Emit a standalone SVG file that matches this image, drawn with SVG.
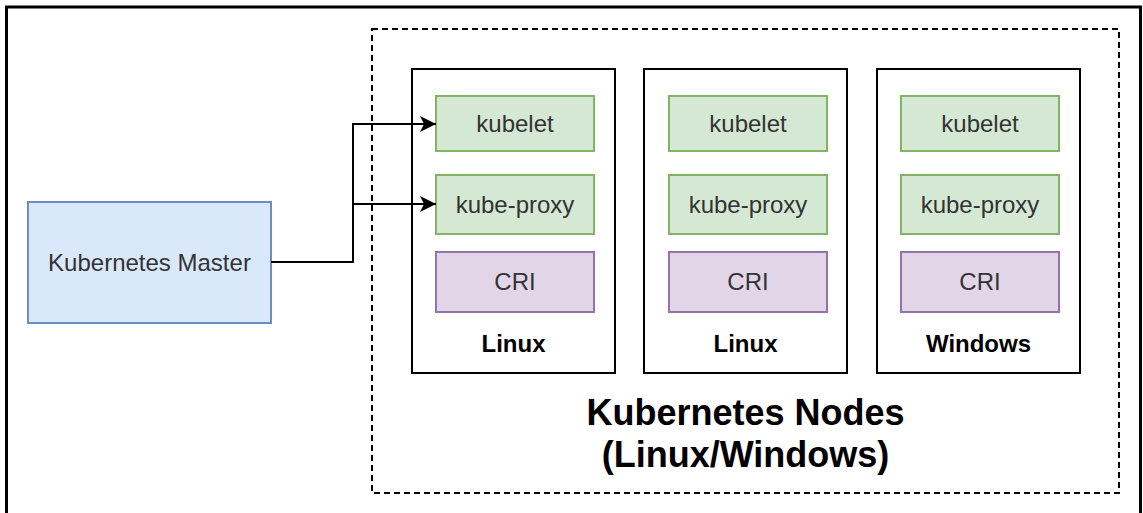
<svg xmlns="http://www.w3.org/2000/svg" width="1143" height="513" viewBox="0 0 1143 513">
<defs>
<style>
.t{font-family:"Liberation Sans",Arial,sans-serif;font-size:24px;fill:#333333;text-anchor:middle}
.b{font-family:"Liberation Sans",Arial,sans-serif;font-size:24px;font-weight:bold;fill:#000;text-anchor:middle}
.g{fill:#d5e8d4;stroke:#82b366;stroke-width:2}
.p{fill:#e1d5e7;stroke:#9673a6;stroke-width:2}
.n{fill:#fff;stroke:#000;stroke-width:2}
.c{fill:none;stroke:#000;stroke-width:2}
</style>
<marker id="arr" markerUnits="userSpaceOnUse" markerWidth="20" markerHeight="20" viewBox="0 0 20 20" refX="18" refY="10" orient="auto">
<path d="M2,2 L18,10 L2,18 L6,10 Z" fill="#000"/>
</marker>
</defs>
<rect x="0" y="0" width="1143" height="513" fill="#fff"/>
<rect id="frame" x="6.5" y="7" width="1134" height="600" fill="none" stroke="#000" stroke-width="3"/>
<g id="nodes-group">
<rect x="372" y="29" width="747" height="464" fill="none" stroke="#000" stroke-width="2" stroke-dasharray="6 4"/>
<text class="b" x="745.5" y="425" font-size="36" style="font-size:36px">Kubernetes Nodes</text>
<text class="b" x="745.5" y="467" style="font-size:36px">(Linux/Windows)</text>
</g>
<g id="master">
<rect x="28" y="202" width="243" height="121" fill="#dae8fc" stroke="#6c8ebf" stroke-width="2"/>
<text class="t" x="149.5" y="271">Kubernetes Master</text>
</g>
<g id="node1">
<rect class="n" x="412" y="69" width="203" height="304"/>
<rect class="g" x="436" y="96" width="158" height="55"/>
<text class="t" x="515" y="132">kubelet</text>
<rect class="g" x="436" y="175" width="158" height="59"/>
<text class="t" x="515" y="213">kube-proxy</text>
<rect class="p" x="436" y="252" width="158" height="60"/>
<text class="t" x="515" y="290">CRI</text>
<text class="b" x="513.5" y="352">Linux</text>
</g>
<g id="node2">
<rect class="n" x="644" y="69" width="203" height="304"/>
<rect class="g" x="669" y="96" width="158" height="55"/>
<text class="t" x="748" y="132">kubelet</text>
<rect class="g" x="669" y="175" width="158" height="59"/>
<text class="t" x="748" y="213">kube-proxy</text>
<rect class="p" x="669" y="252" width="158" height="60"/>
<text class="t" x="748" y="290">CRI</text>
<text class="b" x="745.5" y="352">Linux</text>
</g>
<g id="node3">
<rect class="n" x="877" y="69" width="203" height="304"/>
<rect class="g" x="901" y="96" width="158" height="55"/>
<text class="t" x="980" y="132">kubelet</text>
<rect class="g" x="901" y="175" width="158" height="59"/>
<text class="t" x="980" y="213">kube-proxy</text>
<rect class="p" x="901" y="252" width="158" height="60"/>
<text class="t" x="980" y="290">CRI</text>
<text class="b" x="978.5" y="352">Windows</text>
</g>
<g id="connectors">
<path class="c" d="M271,262 H353 V124 H436" marker-end="url(#arr)"/>
<path class="c" d="M353,204 H436" marker-end="url(#arr)"/>
</g>
</svg>
